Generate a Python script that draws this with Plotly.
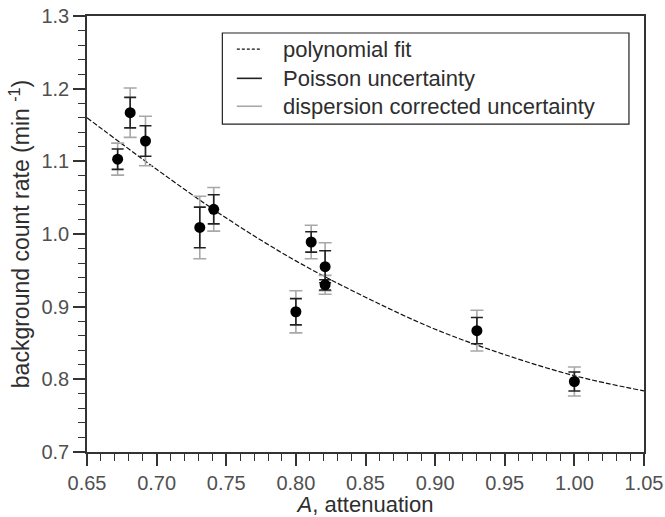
import plotly.graph_objects as go

# Data
attenuation = [0.672, 0.681, 0.692, 0.731, 0.741, 0.800, 0.811, 0.821, 0.821, 0.930, 1.000]
count_rate = [1.103, 1.167, 1.128, 1.009, 1.034, 0.893, 0.989, 0.955, 0.930, 0.867, 0.797]
poisson_err = [0.014, 0.021, 0.021, 0.028, 0.020, 0.018, 0.014, 0.022, 0.007, 0.018, 0.013]
dispersion_err = [0.022, 0.034, 0.034, 0.043, 0.030, 0.029, 0.023, 0.033, 0.013, 0.028, 0.020]

# Polynomial fit curve
fit_x = [0.65, 0.70, 0.75, 0.80, 0.85, 0.90, 0.95, 1.00, 1.05]
fit_y = [1.160, 1.089, 1.022, 0.963, 0.913, 0.869, 0.834, 0.805, 0.784]

x_ticks = [0.65, 0.70, 0.75, 0.80, 0.85, 0.90, 0.95, 1.00, 1.05]
y_ticks = [0.7, 0.8, 0.9, 1.0, 1.1, 1.2, 1.3]

legend_names = ["polynomial fit", "Poisson uncertainty", "dispersion corrected uncertainty"]

FONT = "Liberation Sans, Arial, sans-serif"
TXT = "#2e2e2e"
AX = "#333333"
GRAY = "#a8a8a8"
FIT_COLOR = "#111111"
POIS_COLOR = "#222222"

fig = go.Figure()

fig.add_trace(go.Scatter(
    x=fit_x, y=fit_y, mode="lines", name=legend_names[0],
    line=dict(color=FIT_COLOR, width=1.2, dash="5px,2px", shape="spline"),
    showlegend=False, hoverinfo="skip"))

fig.add_trace(go.Scatter(
    x=attenuation, y=count_rate, mode="markers", name=legend_names[2],
    marker=dict(size=1, color="rgba(0,0,0,0)"),
    error_y=dict(type="data", array=dispersion_err, visible=True, color=GRAY, thickness=1.6, width=6.5),
    showlegend=False))

fig.add_trace(go.Scatter(
    x=attenuation, y=count_rate, mode="markers", name=legend_names[1],
    marker=dict(size=11, color="black"),
    error_y=dict(type="data", array=poisson_err, visible=True, color=POIS_COLOR, thickness=1.6, width=6),
    showlegend=False))

# Legend box drawn in paper coordinates (row spacing as in the reference)
LEG_X0, LEG_X1, LEG_Y0, LEG_Y1 = 0.243, 0.973, 0.752, 0.961
SYM_X0, SYM_X1, TXT_X = 0.269, 0.314, 0.348
ROW_Y = [0.924, 0.857, 0.793]
legend_styles = [dict(color=FIT_COLOR, width=1.2, dash="3px,2px"),
                 dict(color=POIS_COLOR, width=1.6),
                 dict(color=GRAY, width=1.6)]

shapes = [dict(type="rect", xref="paper", yref="paper", x0=LEG_X0, x1=LEG_X1, y0=LEG_Y0, y1=LEG_Y1,
               line=dict(color="#222222", width=1.2), fillcolor="white", layer="above")]
annotations = []
for name, ry, st in zip(legend_names, ROW_Y, legend_styles):
    shapes.append(dict(type="line", xref="paper", yref="paper", x0=SYM_X0, x1=SYM_X1, y0=ry, y1=ry,
                       line=st, layer="above"))
    annotations.append(dict(xref="paper", yref="paper", x=TXT_X, y=ry, xanchor="left", yanchor="middle",
                            text=name, showarrow=False, font=dict(size=22, color=TXT, family=FONT)))

fig.update_layout(
    width=665, height=517,
    margin=dict(l=87, r=21, t=16, b=65),
    paper_bgcolor="white", plot_bgcolor="white",
    font=dict(family=FONT, size=22, color=TXT),
    showlegend=False,
    shapes=shapes,
    annotations=annotations,
    xaxis=dict(
        range=[0.65, 1.05], tickvals=x_ticks, ticktext=[f"{v:.2f}" for v in x_ticks],
        showline=True, linecolor=AX, linewidth=1.5, mirror=True, automargin=False,
        ticklabeloverflow="allow",
        ticks="outside", ticklen=12, tickwidth=1.5, tickcolor=AX,
        minor=dict(dtick=0.01, ticks="outside", ticklen=7, tickwidth=1.3, tickcolor=AX, showgrid=False),
        showgrid=False, zeroline=False,
        title=dict(text="<i>A</i>, attenuation", standoff=3, font=dict(size=22, color=TXT)),
        tickfont=dict(size=20, color="#505050")),
    yaxis=dict(
        range=[0.7, 1.3], tickvals=y_ticks, ticktext=[f"{v:.1f}" for v in y_ticks],
        showline=True, linecolor=AX, linewidth=1.5, mirror=True, automargin=False,
        ticklabeloverflow="allow",
        ticks="outside", ticklen=12, tickwidth=1.5, tickcolor=AX,
        minor=dict(dtick=0.02, tick0=0.7, ticks="outside", ticklen=7, tickwidth=1.3, tickcolor=AX, showgrid=False),
        showgrid=False, zeroline=False,
        title=dict(text="background count rate (min <sup>-1</sup>)", standoff=5, font=dict(size=23, color=TXT)),
        tickfont=dict(size=20, color="#505050")),
)

fig.write_html("out.html", config={"displayModeBar": False},
               post_script="document.body.style.margin='0';document.body.style.overflow='hidden';")
